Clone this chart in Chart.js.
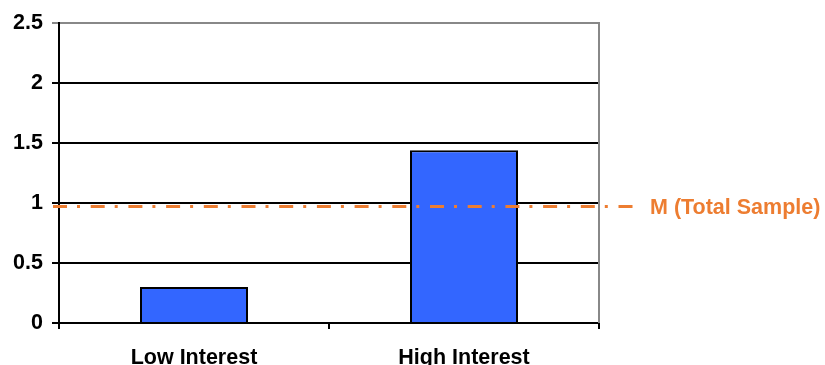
<!DOCTYPE html>
<html>
<head>
<meta charset="utf-8">
<script src="https://cdn.jsdelivr.net/npm/chart.js@4"></script>
<style>
  html, body { margin: 0; padding: 0; background: #fff; }
  #wrap { width: 825px; height: 365px; }
</style>
</head>
<body>
<div id="wrap"><canvas id="barChart" width="825" height="365"></canvas></div>
<script>
const categories = ["Low Interest", "High Interest"];
const interestValues = [0.3, 1.44];
const totalSampleMean = [0.97];
const meanLabel = "M (Total Sample)";
const yTicks = [0, 0.5, 1, 1.5, 2, 2.5];

const ORANGE = "#ED7D31";
const FONT = "'Liberation Sans', Arial, sans-serif";

// dash-dot mean line + grey right frame
const meanLinePlugin = {
  id: "meanLine",
  afterDatasetsDraw(chart) {
    const { ctx, chartArea, scales } = chart;
    const y = scales.y.getPixelForValue(totalSampleMean[0]);
    ctx.save();
    ctx.strokeStyle = "#888888";
    ctx.lineWidth = 2;
    ctx.beginPath();
    ctx.moveTo(chartArea.right, chartArea.top - 1);
    ctx.lineTo(chartArea.right, chartArea.bottom);
    ctx.stroke();

    ctx.strokeStyle = ORANGE;
    ctx.lineWidth = 3;
    ctx.setLineDash([14, 10, 3, 10.7]);
    ctx.beginPath();
    ctx.moveTo(chartArea.left - 6, y);
    ctx.lineTo(chartArea.right + 43, y);
    ctx.stroke();
    ctx.setLineDash([]);

    ctx.fillStyle = ORANGE;
    ctx.font = "bold 21.5px " + FONT;
    ctx.textBaseline = "middle";
    ctx.fillText(meanLabel, chartArea.right + 51, y + 1);
    ctx.restore();
  },
};

const ctx = document.getElementById("barChart").getContext("2d");
new Chart(ctx, {
  type: "bar",
  data: {
    labels: categories,
    datasets: [
      {
        data: interestValues,
        backgroundColor: "#3366FF",
        borderColor: "#000000",
        borderWidth: 2,
        barPercentage: 0.4,
        categoryPercentage: 1,
      },
    ],
  },
  options: {
    responsive: false,
    animation: false,
    layout: { padding: { top: 23, right: 226, left: 4, bottom: 0 } },
    plugins: {
      legend: { display: false },
      tooltip: { enabled: false },
    },
    scales: {
      x: {
        grid: {
          drawOnChartArea: false,
          drawTicks: true,
          tickLength: 6,
          color: "#000",
          lineWidth: 2,
        },
        border: { color: "#000", width: 2 },
        ticks: {
          color: "#000",
          font: { family: FONT, size: 21.5, weight: "bold" },
          padding: 16,
        },
        afterFit(scale) {
          scale.height = 42;
        },
      },
      y: {
        min: 0,
        max: 2.5,
        afterBuildTicks(scale) {
          scale.ticks = yTicks.map((v) => ({ value: v }));
        },
        grid: {
          color: (c) => (c.tick && c.tick.value === 2.5 ? "#888888" : "#000000"),
          lineWidth: 2,
          tickLength: 7,
        },
        border: { color: "#000", width: 2 },
        ticks: {
          color: "#000",
          font: { family: FONT, size: 21.5, weight: "bold" },
          padding: 9,
          callback: (v) => String(v),
        },
        afterFit(scale) {
          scale.width = 55;
        },
      },
    },
  },
  plugins: [meanLinePlugin],
});
</script>
</body>
</html>
